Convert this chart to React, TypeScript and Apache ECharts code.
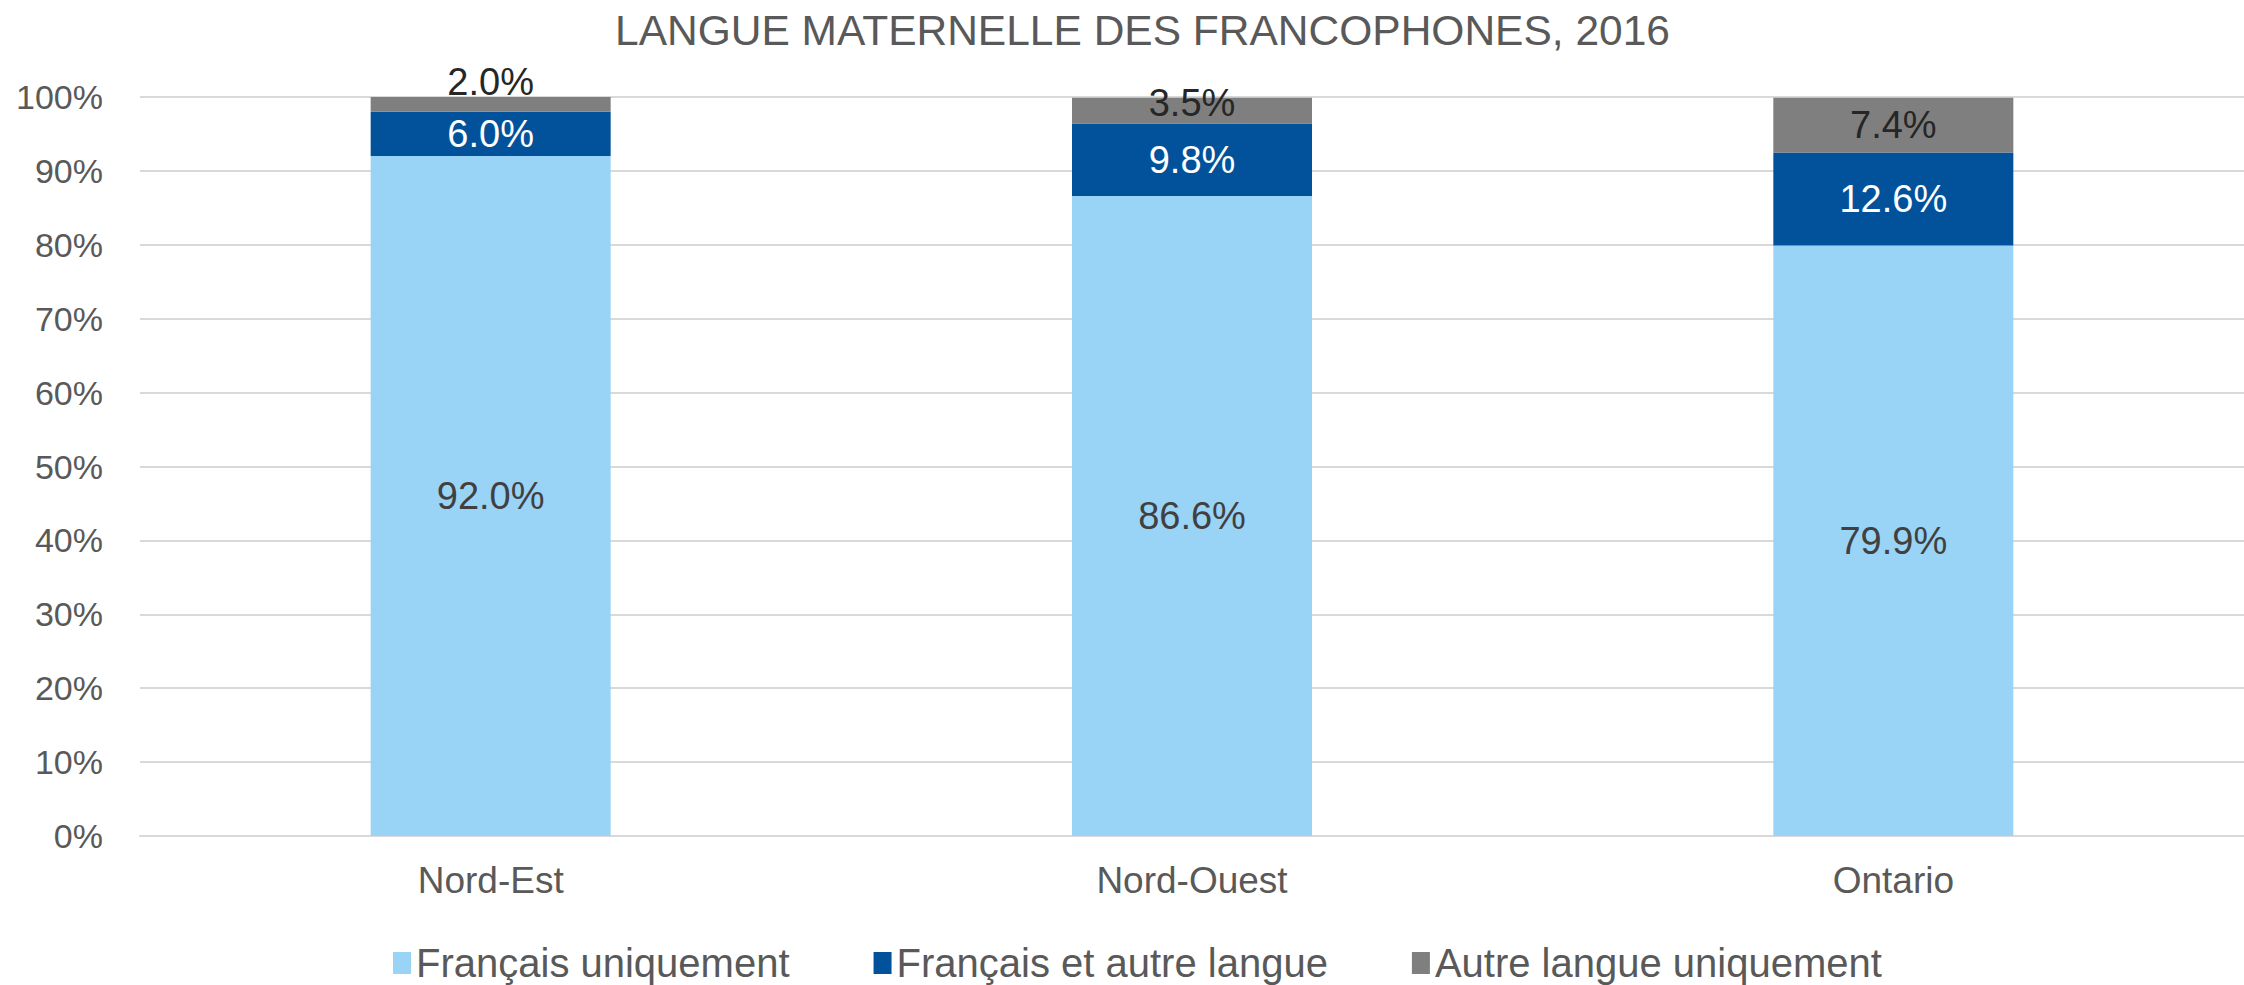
import React, { useEffect, useRef } from "react";
import * as echarts from "echarts";

const categories = ["Nord-Est", "Nord-Ouest", "Ontario"];
const francaisUniquement = [92.0, 86.6, 79.9];
const francaisEtAutre = [6.0, 9.8, 12.6];
const autreUniquement = [2.0, 3.5, 7.4];
const seriesNames = ["Français uniquement", "Français et autre langue", "Autre langue uniquement"];
const autreLabelOffsets = [-22, -8, 0];

const FONT = "'Liberation Sans', Arial, sans-serif";

export default function App() {
  const ref = useRef<HTMLDivElement>(null);
  useEffect(() => {
    if (!ref.current) return;
    const chart = echarts.init(ref.current, undefined, { renderer: "svg" });
    const fmt = (p: any) => `${Number(p.value).toFixed(1)}%`;
    chart.setOption({
      animation: false,
      backgroundColor: "#ffffff",
      textStyle: { fontFamily: FONT },
      title: {
        text: "LANGUE MATERNELLE DES FRANCOPHONES, 2016",
        left: 615,
        top: 9,
        padding: 0,
        textStyle: { fontSize: 42.5, fontWeight: "normal", color: "#595959", fontFamily: FONT },
      },
      legend: {
        left: 388,
        top: 937,
        itemWidth: 18,
        itemHeight: 22,
        itemGap: 84,
        icon: "rect",
        textStyle: { fontSize: 40, color: "#595959", fontFamily: FONT, lineHeight: 42 },
        data: seriesNames,
      },
      grid: { left: 140, top: 97, width: 2120, height: 739, containLabel: false },
      xAxis: {
        type: "category",
        data: categories,
        axisLine: { show: true, lineStyle: { color: "#D9D9D9", width: 2 } },
        axisTick: { show: false },
        axisLabel: { fontSize: 37, color: "#595959", margin: 26, fontFamily: FONT },
      },
      yAxis: {
        type: "value",
        min: 0,
        max: 100,
        interval: 10,
        axisLine: { show: false },
        axisTick: { show: false },
        splitLine: { lineStyle: { color: "#D9D9D9", width: 2 } },
        axisLabel: { fontSize: 34, color: "#595959", margin: 37, formatter: "{value}%", fontFamily: FONT },
      },
      series: [
        {
          name: seriesNames[0],
          type: "bar",
          stack: "total",
          barWidth: 240,
          itemStyle: { color: "#99D3F5" },
          label: { show: true, position: "inside", formatter: fmt, fontSize: 38, color: "#404040", fontFamily: FONT },
          data: francaisUniquement,
        },
        {
          name: seriesNames[1],
          type: "bar",
          stack: "total",
          barWidth: 240,
          itemStyle: { color: "#02529B" },
          label: { show: true, position: "inside", formatter: fmt, fontSize: 38, color: "#ffffff", fontFamily: FONT },
          data: francaisEtAutre,
        },
        {
          name: seriesNames[2],
          type: "bar",
          stack: "total",
          barWidth: 240,
          itemStyle: { color: "#7F7F7F" },
          label: { show: true, position: "inside", formatter: fmt, fontSize: 38, color: "#262626", fontFamily: FONT },
          data: autreUniquement.map((v, i) => ({ value: v, label: { offset: [0, autreLabelOffsets[i]] } })),
        },
      ],
    });
    return () => chart.dispose();
  }, []);
  return (
    <div
      ref={ref}
      style={{ position: "fixed", left: 0, top: 0, width: 2244, height: 985, overflow: "hidden" }}
    />
  );
}
